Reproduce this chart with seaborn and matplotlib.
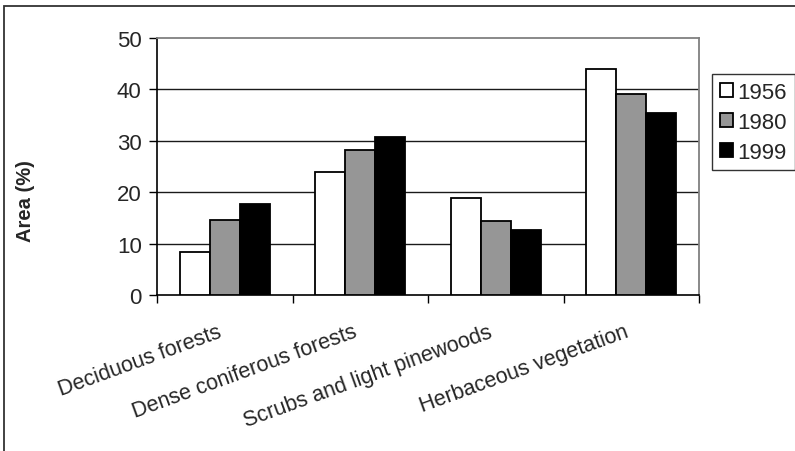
import matplotlib
matplotlib.use("Agg")
import matplotlib.pyplot as plt
import matplotlib.transforms as mtransforms
from matplotlib.patches import Rectangle
import seaborn as sns
import pandas as pd

categories = ["Deciduous forests", "Dense coniferous forests",
              "Scrubs and light pinewoods", "Herbaceous vegetation"]
years = ["1956", "1980", "1999"]
area_1956 = [8.3, 23.9, 18.9, 44.0]
area_1980 = [14.6, 28.3, 14.3, 39.1]
area_1999 = [17.8, 30.7, 12.7, 35.5]
yticks = [0, 10, 20, 30, 40, 50]

df = pd.DataFrame({
    "category": categories * 3,
    "year": [y for y in years for _ in categories],
    "area": area_1956 + area_1980 + area_1999,
})

sns.set_theme(style="white")
plt.rcParams["font.family"] = ["Liberation Sans", "DejaVu Sans"]

W, H = 795, 452
fig = plt.figure(figsize=(W / 100, H / 100), dpi=100)
ax = fig.add_axes([157 / W, 1 - 296 / H, (699 - 157) / W, (296 - 39) / H])

palette = {"1956": "#ffffff", "1980": "#969696", "1999": "#000000"}
sns.barplot(data=df, x="category", y="area", hue="year", order=categories,
            hue_order=years, palette=palette, width=0.667, gap=0,
            edgecolor="black", linewidth=1.3, saturation=1, ax=ax, zorder=3)

# gridlines and axes frame
ax.set_ylim(0, 50)
ax.set_yticks(yticks)
ax.set_yticklabels([str(v) for v in yticks], fontsize=16)
for v in yticks[1:-1]:
    ax.axhline(v, color="#1a1a1a", lw=1.0, zorder=1)
for side in ["top", "right"]:
    ax.spines[side].set_color("#808080")
    ax.spines[side].set_linewidth(1.3)
for side in ["left", "bottom"]:
    ax.spines[side].set_color("black")
    ax.spines[side].set_linewidth(1.2)

# category boundaries carry tick marks; labels sit at category centres
ax.set_xlim(-0.5, 3.5)
ax.set_xticks([-0.5, 0.5, 1.5, 2.5, 3.5])
ax.set_xticklabels([""] * 5)
ax.set_xticks(range(len(categories)), minor=True)
ax.set_xticklabels(categories, minor=True, rotation=20, ha="right",
                   va="center", rotation_mode="anchor", fontsize=15.5)
ax.tick_params(axis="x", which="major", direction="out", length=6,
               width=1, color="black", bottom=True)
ax.tick_params(axis="x", which="minor", length=0, pad=26)
ax.tick_params(axis="y", direction="out", length=6, width=1, color="black",
               left=True, labelsize=16, pad=5)
shift = mtransforms.ScaledTranslation(-4 / 100, 0, fig.dpi_scale_trans)
for lbl in ax.get_xticklabels(minor=True):
    lbl.set_transform(lbl.get_transform() + shift)

ax.set_xlabel("")
ax.set_ylabel("Area (%)", fontsize=14.5, fontweight="bold")
ax.yaxis.set_label_coords((35 - 157) / (699 - 157), (296 - 201) / (296 - 39))

# legend
handles, labels = ax.get_legend_handles_labels()
ax.legend(handles, labels, loc="upper left",
          bbox_to_anchor=(712 / W, 1 - 75 / H), bbox_transform=fig.transFigure,
          frameon=True, fancybox=False, edgecolor="black", fontsize=16,
          handlelength=0.6, handleheight=0.6, handletextpad=0.2,
          labelspacing=0.4, borderpad=0.35, borderaxespad=0)
leg = ax.get_legend()
leg.get_frame().set_linewidth(1.0)

# outer chart border
fig.patches.append(Rectangle((4 / W, -0.1), 1.2, 1 - 7 / H + 0.1,
                             transform=fig.transFigure, fill=False,
                             edgecolor="#333333", linewidth=1.3))

fig.savefig("out.png", dpi=100, facecolor="white")
